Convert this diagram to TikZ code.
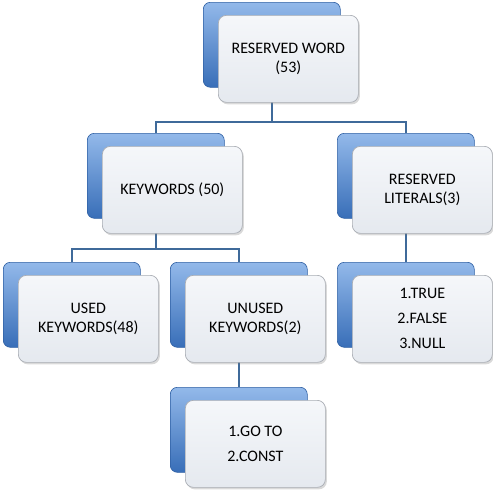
\documentclass[tikz,border=0pt]{standalone}
\usepackage{fontspec}
\setmainfont{Carlito}
\usetikzlibrary{shadows}
\definecolor{conncol}{HTML}{3F6A9A}
\definecolor{bluetop}{HTML}{93B9EA}
\definecolor{bluemid}{HTML}{4682CE}
\definecolor{bluebot}{HTML}{386EB8}
\definecolor{blueedge}{HTML}{2E5FA3}
\definecolor{frontedge}{HTML}{A9ADB4}
\definecolor{fronttop}{HTML}{F5F7FA}
\definecolor{frontbot}{HTML}{E5E9EF}
\tikzset{
  backbox/.style={anchor=north west, minimum width=137pt, minimum height=85pt,
    rounded corners=7pt, draw=blueedge, line width=0.6pt,
    top color=bluetop, middle color=bluemid, bottom color=bluebot, inner sep=0pt},
  frontbox/.style={anchor=north west, minimum width=140pt, minimum height=87pt,
    rounded corners=8pt, draw=frontedge, line width=0.7pt,
    top color=fronttop, bottom color=frontbot, align=center, inner sep=2pt,
    drop shadow={shadow xshift=1.5pt, shadow yshift=-2pt, opacity=0.3},
    font=\fontsize{16}{19}\selectfont},
  listbox/.style={frontbox, font=\fontsize{16}{25}\selectfont},
  conn/.style={draw=conncol, line width=2.5pt}
}
\begin{document}
\begin{tikzpicture}[x=1pt,y=1pt]
\useasboundingbox (0,0) rectangle (493,-491);
% back (blue) boxes
\node[backbox] (bT) at (203,-2) {};
\node[backbox] (bK) at (87,-133) {};
\node[backbox] (bL) at (337,-133) {};
\node[backbox] (bU) at (3,-262) {};
\node[backbox] (bN) at (170,-262) {};
\node[backbox] (bC) at (337,-262) {};
\node[backbox] (bG) at (170,-387) {};
% connectors (drawn under the front boxes)
\draw[conn] (bT.north |- 0,-95) -- (bT.north |- 0,-122) -| (bK.north);
\draw[conn] (bT.north |- 0,-122) -| (bL.north);
\draw[conn] (bK.north |- 0,-225) -- (bK.north |- 0,-249) -| (bU.north);
\draw[conn] (bK.north |- 0,-249) -| (bN.north);
\draw[conn] (bL.north |- 0,-225) -- (bC.north);
\draw[conn] (bN.north |- 0,-350) -- (bG.north);
% front boxes
\node[frontbox] (fT) at (218,-15) {RESERVED WORD\\(53)};
\node[frontbox] (fK) at (102,-146) {KEYWORDS (50)};
\node[frontbox] (fL) at (352,-146) {RESERVED\\LITERALS(3)};
\node[frontbox] (fU) at (18,-275) {USED\\KEYWORDS(48)};
\node[frontbox] (fN) at (185,-275) {UNUSED\\KEYWORDS(2)};
\node[listbox] (fC) at (352,-275) {1.TRUE\\2.FALSE\\3.NULL};
\node[listbox] (fG) at (185,-400) {1.GO TO\\2.CONST};
\end{tikzpicture}
\end{document}
